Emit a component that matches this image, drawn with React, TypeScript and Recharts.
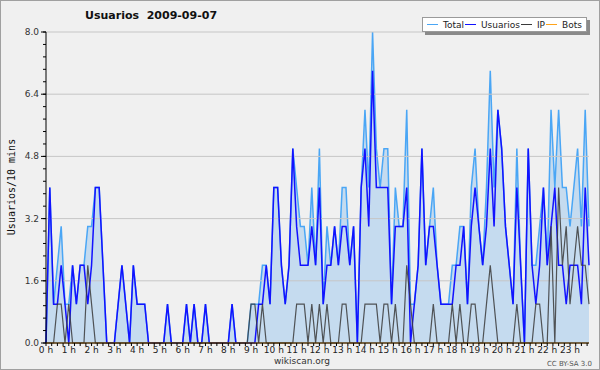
import React from "react";
import { ComposedChart, Area, Line, XAxis, YAxis, ReferenceLine } from "recharts";

// 10-minute slots, 0h .. 23h50
const hourLabels = [
  "0 h", "1 h", "2 h", "3 h", "4 h", "5 h", "6 h", "7 h", "8 h", "9 h", "10 h", "11 h",
  "12 h", "13 h", "14 h", "15 h", "16 h", "17 h", "18 h", "19 h", "20 h", "21 h", "22 h", "23 h",
];

const usuarios = [
  0, 4, 1, 1, 2, 1, 0, 2, 1, 2, 2, 1, 2, 4, 4, 2, 0, 0, 0, 1, 2, 1, 0, 2,
  1, 1, 1, 0, 0, 0, 0, 0, 1, 0, 0, 0, 0, 1, 0, 1, 0, 0, 1, 0, 0, 0, 0, 0,
  0, 1, 0, 0, 0, 0, 0, 0, 1, 1, 2, 1, 4, 4, 2, 1, 2, 5, 3, 2, 2, 2, 3, 2,
  4, 1, 2, 2, 3, 2, 3, 3, 2, 3, 0, 4, 5, 3, 7, 4, 4, 4, 4, 1, 3, 3, 3, 4,
  0, 1, 2, 5, 2, 3, 3, 2, 1, 1, 1, 1, 2, 2, 3, 1, 3, 4, 3, 2, 3, 5, 3, 6,
  5, 3, 2, 1, 4, 2, 0, 5, 2, 1, 2, 4, 2, 3, 4, 2, 2, 1, 2, 2, 2, 1, 4, 2,
];

const ip = [
  0, 0, 0, 1, 1, 0, 1, 0, 0, 0, 0, 2, 1, 0, 0, 0, 0, 0, 0, 0, 0, 0, 0, 0,
  0, 0, 0, 0, 0, 0, 0, 0, 0, 0, 0, 0, 0, 0, 0, 0, 0, 0, 0, 0, 0, 0, 0, 0,
  0, 0, 0, 0, 0, 0, 1, 1, 0, 1, 0, 0, 0, 0, 0, 0, 0, 0, 1, 1, 1, 0, 1, 0,
  1, 0, 1, 0, 0, 0, 1, 1, 0, 0, 0, 0, 1, 1, 1, 1, 0, 1, 1, 0, 1, 0, 0, 2,
  1, 0, 0, 0, 0, 0, 1, 0, 0, 0, 0, 1, 0, 1, 0, 0, 1, 1, 0, 0, 1, 2, 1, 0,
  0, 0, 0, 0, 1, 0, 0, 0, 0, 1, 1, 0, 0, 3, 0, 4, 2, 3, 1, 2, 3, 2, 2, 1,
];

const total = [
  0, 4, 1, 2, 3, 1, 1, 2, 1, 2, 2, 3, 3, 4, 4, 2, 0, 0, 0, 1, 2, 1, 0, 2,
  1, 1, 1, 0, 0, 0, 0, 0, 1, 0, 0, 0, 0, 1, 0, 1, 0, 0, 1, 0, 0, 0, 0, 0,
  0, 1, 0, 0, 0, 0, 1, 1, 1, 2, 2, 1, 4, 4, 2, 1, 2, 5, 4, 3, 3, 2, 4, 2,
  5, 1, 3, 2, 3, 2, 4, 4, 2, 3, 0, 4, 6, 4, 8, 5, 4, 5, 5, 1, 4, 3, 3, 6,
  1, 1, 2, 5, 2, 3, 4, 2, 1, 1, 1, 2, 2, 3, 3, 1, 4, 5, 3, 2, 4, 7, 4, 6,
  5, 3, 2, 1, 5, 2, 0, 5, 2, 2, 3, 4, 2, 6, 4, 6, 4, 4, 3, 4, 5, 3, 6, 3,
];

const bots = [
  0, 0, 0, 0, 0, 0, 0, 0, 0, 0, 0, 0, 0, 0, 0, 0, 0, 0, 0, 0, 0, 0, 0, 0,
  0, 0, 0, 0, 0, 0, 0, 0, 0, 0, 0, 0, 0, 0, 0, 0, 0, 0, 0, 0, 0, 0, 0, 0,
  0, 0, 0, 0, 0, 0, 0, 0, 0, 0, 0, 0, 0, 0, 0, 0, 0, 0, 0, 0, 0, 0, 0, 0,
  0, 0, 0, 0, 0, 0, 0, 0, 0, 0, 0, 0, 0, 0, 0, 0, 0, 0, 0, 0, 0, 0, 0, 0,
  0, 0, 0, 0, 0, 0, 0, 0, 0, 0, 0, 0, 0, 0, 0, 0, 0, 0, 0, 0, 0, 0, 0, 0,
  0, 0, 0, 0, 0, 0, 0, 0, 0, 0, 0, 0, 0, 0, 0, 0, 0, 0, 0, 0, 0, 0, 0, 0,
];

const seriesNames = ["Total", "Usuarios", "IP", "Bots"];
const yLabels = ["0.0", "1.6", "3.2", "4.8", "6.4", "8.0"];
const gridValues = [1.6, 3.2, 4.8, 6.4, 8.0];

const data = usuarios.map((u, i) => ({
  slot: i,
  total: total[i],
  usuarios: u,
  ip: ip[i],
  bots: bots[i],
}));

// ticks every 15 min on x, every 0.32 on y
const xTicks = Array.from({ length: 96 }, (_, k) => k * 1.5);
const yTicks = Array.from({ length: 26 }, (_, k) => Math.round(k * 32) / 100);

const seriesColors = ["#4aa6f5", "#1212ff", "#3a3a3a", "#ffa31a"];

const font = "'DejaVu Sans', sans-serif";

function YTick(props: any) {
  const { x, y, payload } = props;
  const k = Math.round(payload.value / 0.32);
  if (k % 5 !== 0) return <g />;
  return (
    <g>
      <line x1={x} x2={x + 5} y1={y} y2={y} stroke="#000" />
      <text x={x - 2} y={y} dy={3} textAnchor="end" fontSize={9} fill="#333" fontFamily={font}>
        {yLabels[k / 5]}
      </text>
    </g>
  );
}

function LegendBox() {
  return (
    <div
      style={{
        position: "absolute",
        left: 422,
        top: 17,
        display: "flex",
        alignItems: "center",
        background: "#fff",
        border: "1px solid #9a9a9a",
        boxShadow: "3px 3px 0 #8a8a8a",
        height: 13,
        padding: "0 4px 0 3px",
        fontFamily: font,
        fontSize: 9,
        color: "#222",
        whiteSpace: "nowrap",
      }}
    >
      {seriesNames.map((name, k) => (
        <span key={name} style={{ display: "flex", alignItems: "center" }}>
          <span style={{ display: "inline-block", width: 11, height: 1, background: seriesColors[k], margin: "0 5px 0 1px" }} />
          <span>{name}</span>
        </span>
      ))}
    </div>
  );
}

export default function App() {
  return (
    <div style={{ position: "absolute", left: 0, top: 0, width: 600, height: 370, background: "#f0f0f0", overflow: "hidden" }}>
      <ComposedChart width={600} height={370} data={data} margin={{ top: 32, right: 11, bottom: 0, left: 0 }}>
        <XAxis
          dataKey="slot"
          type="number"
          domain={[0, 143]}
          ticks={xTicks}
          interval={0}
          height={27}
          tickSize={3}
          tickMargin={1}
          axisLine={{ stroke: "#000" }}
          tickLine={{ stroke: "#000" }}
          tickFormatter={(v: number) => (v % 6 === 0 ? hourLabels[v / 6] : "")}
          tick={{ fontSize: 9, fill: "#222", fontFamily: font }}
        />
        <YAxis
          type="number"
          domain={[0, 8]}
          ticks={yTicks}
          interval={0}
          width={46}
          tickSize={3}
          tickMargin={2}
          axisLine={{ stroke: "#000" }}
          tickLine={{ stroke: "#000" }}
          tick={<YTick />}
        />
        <Area
          dataKey="total"
          name={seriesNames[0]}
          type="linear"
          fill="#c5dbef"
          fillOpacity={1}
          stroke={seriesColors[0]}
          strokeWidth={1.5}
          isAnimationActive={false}
        />
        {gridValues.map((g) => (
          <ReferenceLine key={g} y={g} stroke="#c6c6c6" strokeWidth={1} />
        ))}
        <Line dataKey="usuarios" name={seriesNames[1]} type="linear" stroke={seriesColors[1]} strokeWidth={1.5} dot={false} isAnimationActive={false} />
        <Line dataKey="ip" name={seriesNames[2]} type="linear" stroke={seriesColors[2]} strokeWidth={1.2} strokeOpacity={0.85} dot={false} isAnimationActive={false} />
        <Line dataKey="bots" name={seriesNames[3]} type="linear" stroke={seriesColors[3]} strokeWidth={1} dot={false} isAnimationActive={false} />
      </ComposedChart>

      <LegendBox />
      <div style={{ position: "absolute", left: 85, top: 9, fontFamily: font, fontWeight: "bold", fontSize: 11, color: "#111", whiteSpace: "pre" }}>
        {"Usuarios  2009-09-07"}
      </div>
      <div
        style={{
          position: "absolute",
          left: 11,
          top: 187,
          transform: "translate(-50%, -50%) rotate(-90deg)",
          fontFamily: "'DejaVu Sans Mono', monospace",
          fontSize: 10,
          color: "#111",
          whiteSpace: "nowrap",
        }}
      >
        Usuarios/10 mins
      </div>
      <div style={{ position: "absolute", left: 302, top: 356, transform: "translateX(-50%)", fontFamily: font, fontSize: 9, color: "#333" }}>
        wikiscan.org
      </div>
      <div style={{ position: "absolute", right: 8, top: 360, fontFamily: font, fontSize: 7, color: "#555" }}>
        CC BY-SA 3.0
      </div>
      <div style={{ position: "absolute", left: 0, top: 0, width: 598, height: 368, border: "1px solid #a0a0a0", pointerEvents: "none" }} />
    </div>
  );
}
